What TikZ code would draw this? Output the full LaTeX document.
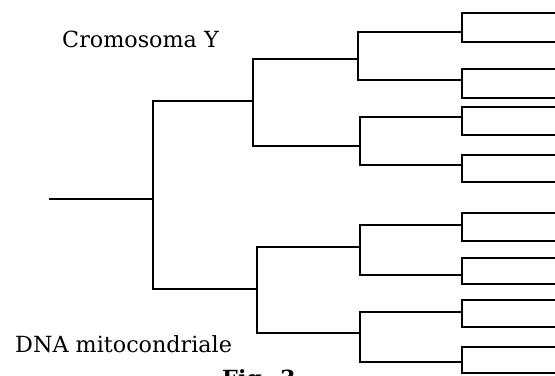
\documentclass[tikz,border=0pt]{standalone}
\usepackage{fontspec}
\setmainfont{DejaVu Serif}

\begin{document}
\begin{tikzpicture}[x=0.03cm, y=-0.03cm,
    branch/.style={line width=1.8pt, line cap=rect},
    caption/.style={inner sep=0pt, font=\fontsize{19}{22}\selectfont}]
    \useasboundingbox (0,0) rectangle (555,376);

    % leaves
    \foreach \n/\y in {1/13,2/42,3/69,4/98,5/107,6/135,7/155,8/182,
                       9/213,10/241,11/258,12/284,13/300,14/327,15/347,16/373}
        \coordinate (l\n) at (555,\y);

    % inner junctions
    \coordinate (c1) at (462,32);
    \coordinate (c2) at (462,80);
    \coordinate (c3) at (462,117);
    \coordinate (c4) at (462,165);
    \coordinate (c5) at (462,225);
    \coordinate (c6) at (462,275);
    \coordinate (c7) at (462,312);
    \coordinate (c8) at (462,362);
    \coordinate (b1) at (358,59);
    \coordinate (b2) at (360,146);
    \coordinate (b3) at (360,247);
    \coordinate (b4) at (360,333);
    \coordinate (a1) at (253,101);
    \coordinate (a2) at (257,289);
    \coordinate (root) at (153,199);
    \coordinate (stem) at (50,199);

    \draw[branch] (l1) -| (c1) |- (l2);
    \draw[branch] (l3) -| (c2) |- (l4);
    \draw[branch] (l5) -| (c3) |- (l6);
    \draw[branch] (l7) -| (c4) |- (l8);
    \draw[branch] (l9) -| (c5) |- (l10);
    \draw[branch] (l11) -| (c6) |- (l12);
    \draw[branch] (l13) -| (c7) |- (l14);
    \draw[branch] (l15) -| (c8) |- (l16);

    \draw[branch] (c1) -| (b1) |- (c2);
    \draw[branch] (c3) -| (b2) |- (c4);
    \draw[branch] (c5) -| (b3) |- (c6);
    \draw[branch] (c7) -| (b4) |- (c8);

    \draw[branch] (b1) -| (a1) |- (b2);
    \draw[branch] (b3) -| (a2) |- (b4);

    \draw[branch] (a1) -| (root) |- (a2);
    \draw[branch] (stem) -- (root);

    \node[caption, anchor=base west] (ycrom) at (62,48) {Cromosoma Y};
    \node[caption, anchor=base west] (mtdna) at (15,353) {DNA mitocondriale};
    \node[caption, anchor=north west, font=\fontsize{19}{22}\selectfont\bfseries] (fig) at (222,369) {Fig. 3};
\end{tikzpicture}
\end{document}
